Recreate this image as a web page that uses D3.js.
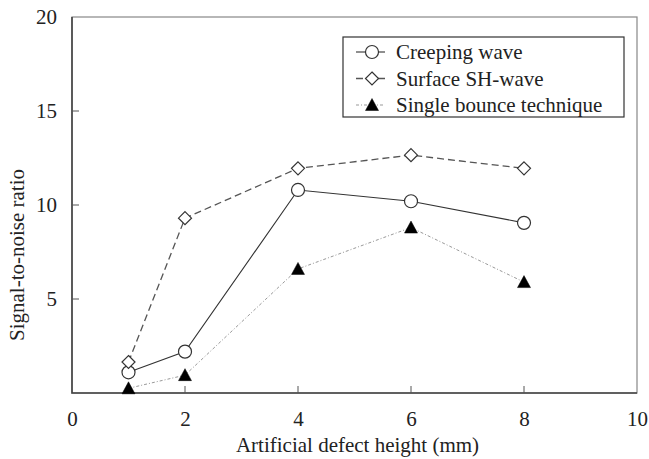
<!DOCTYPE html>
<html>
<head>
<meta charset="utf-8">
<script src="https://cdn.jsdelivr.net/npm/d3@7"></script>
<style>
  body { margin: 0; background: #fff; }
</style>
</head>
<body>
<div id="chart"></div>
<script>
// data
var heights = [1, 2, 4, 6, 8];
var creeping = [1.1, 2.2, 10.8, 10.2, 9.05];
var surfaceSH = [1.65, 9.3, 11.95, 12.65, 11.95];
var singleBounce = [0.25, 0.95, 6.6, 8.8, 5.9];
var xTicks = [0, 2, 4, 6, 8, 10];
var yTicks = [5, 10, 15, 20];
var seriesNames = ["Creeping wave", "Surface SH-wave", "Single bounce technique"];

var width = 649, height = 459;
var mLeft = 72, mRight = 637, mTop = 17, mBottom = 393;
var fontSize = 21;
var font = "Liberation Serif";
var textColor = "#222";

var x = d3.scaleLinear().domain([0, 10]).range([mLeft, mRight]);
var y = d3.scaleLinear().domain([0, 20]).range([mBottom, mTop]);

var svg = d3.select("#chart").append("svg")
    .attr("width", width)
    .attr("height", height)
    .attr("font-family", font);

// frame
svg.append("rect")
    .attr("x", mLeft).attr("y", mTop)
    .attr("width", mRight - mLeft).attr("height", mBottom - mTop)
    .attr("fill", "none").attr("stroke", "#888").attr("stroke-width", 1.2);
svg.append("path")
    .attr("d", "M" + mLeft + "," + mTop + "V" + mBottom + "H" + mRight)
    .attr("fill", "none").attr("stroke", "#444").attr("stroke-width", 1.6);

// ticks, drawn inward
var xAxis = d3.axisBottom(x).tickValues(xTicks).tickSize(0).tickPadding(18)
    .tickFormat(d3.format("d"));
svg.append("g").attr("transform", "translate(0," + mBottom + ")")
    .call(xAxis)
    .call(function(g) {
        g.attr("font-family", font).attr("font-size", fontSize);
        g.select(".domain").remove();
        g.selectAll("text").attr("fill", textColor);
    });
svg.append("g").selectAll("line")
    .data([2, 4, 6, 8]).enter().append("line")
    .attr("x1", function(d) { return x(d); }).attr("x2", function(d) { return x(d); })
    .attr("y1", mBottom).attr("y2", mBottom - 7)
    .attr("stroke", "#555");

var yAxis = d3.axisLeft(y).tickValues(yTicks).tickSize(0).tickPadding(15);
svg.append("g").attr("transform", "translate(" + mLeft + ",0)")
    .call(yAxis)
    .call(function(g) {
        g.attr("font-family", font).attr("font-size", fontSize);
        g.select(".domain").remove();
        g.selectAll("text").attr("fill", textColor);
    });
svg.append("g").selectAll("line")
    .data([5, 10, 15]).enter().append("line")
    .attr("x1", mLeft).attr("x2", mLeft + 7)
    .attr("y1", function(d) { return y(d); }).attr("y2", function(d) { return y(d); })
    .attr("stroke", "#555");

// axis titles
svg.append("text")
    .attr("x", (mLeft + mRight) / 2 + 3).attr("y", 452)
    .attr("text-anchor", "middle")
    .attr("font-family", font).attr("font-size", fontSize).attr("fill", textColor)
    .text("Artificial defect height (mm)");
svg.append("text")
    .attr("transform", "translate(24,255) rotate(-90)")
    .attr("text-anchor", "middle")
    .attr("font-family", font).attr("font-size", fontSize).attr("fill", textColor)
    .text("Signal-to-noise ratio");

// series
var line = d3.line()
    .x(function(d) { return x(d.h); })
    .y(function(d) { return y(d.v); });

function pts(vals) {
    return heights.map(function(h, i) { return { h: h, v: vals[i] }; });
}

var styles = [
    { vals: creeping, stroke: "#333", width: 1.1, dash: null, marker: "circle" },
    { vals: surfaceSH, stroke: "#555", width: 1.3, dash: "7,4", marker: "diamond" },
    { vals: singleBounce, stroke: "#999", width: 1, dash: "3,2,1,2", marker: "triangle" }
];

function markerPath(type) {
    if (type === "circle") return d3.symbol().type(d3.symbolCircle).size(133)();
    if (type === "diamond") return "M0,-6.5L6.5,0L0,6.5L-6.5,0Z";
    return "M0,-6.5L6.5,5.5L-6.5,5.5Z";
}

function drawMarker(sel, type) {
    sel.append("path")
        .attr("d", markerPath(type))
        .attr("fill", type === "triangle" ? "#000" : "#fff")
        .attr("stroke", type === "triangle" ? "#000" : "#333")
        .attr("stroke-width", type === "triangle" ? 0.5 : 1.2);
}

styles.forEach(function(s) {
    svg.append("path")
        .datum(pts(s.vals))
        .attr("d", line)
        .attr("fill", "none")
        .attr("stroke", s.stroke)
        .attr("stroke-width", s.width)
        .attr("stroke-dasharray", s.dash);
});

styles.forEach(function(s) {
    svg.append("g").selectAll("g")
        .data(pts(s.vals)).enter().append("g")
        .attr("transform", function(d) { return "translate(" + x(d.h) + "," + y(d.v) + ")"; })
        .each(function() { drawMarker(d3.select(this), s.marker); });
});

// legend
var legend = svg.append("g");
legend.append("rect")
    .attr("x", 343).attr("y", 37).attr("width", 281).attr("height", 80)
    .attr("fill", "#fff").attr("stroke", "#333").attr("stroke-width", 1.2);

var rows = legend.selectAll("g.row")
    .data(styles).enter().append("g")
    .attr("class", "row")
    .attr("transform", function(d, i) { return "translate(372," + (52 + i * 26.5) + ")"; });

rows.append("line")
    .attr("x1", -16).attr("x2", 13)
    .attr("stroke", function(d) { return d.stroke; })
    .attr("stroke-width", function(d) { return d.width; })
    .attr("stroke-dasharray", function(d) { return d.dash; });
rows.each(function(d) { drawMarker(d3.select(this), d.marker); });
rows.append("text")
    .attr("x", 24).attr("y", 7)
    .attr("font-family", font).attr("font-size", fontSize).attr("fill", textColor)
    .text(function(d, i) { return seriesNames[i]; });
</script>
</body>
</html>
